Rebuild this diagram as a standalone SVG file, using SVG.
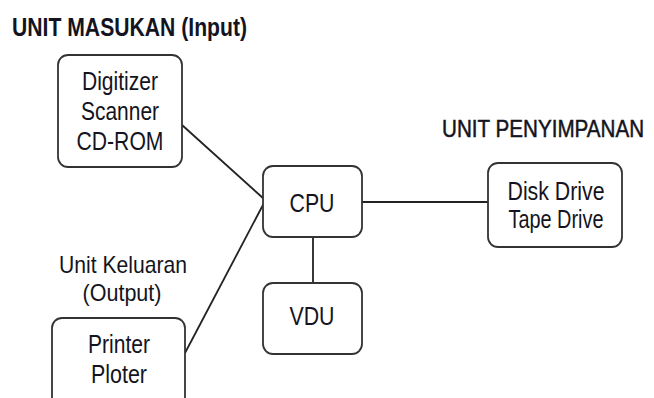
<svg xmlns="http://www.w3.org/2000/svg" width="654" height="398" viewBox="0 0 654 398">
<style>
.box{fill:#fff;stroke:#333;stroke-width:1.8}
.t{font-family:"Liberation Sans",Arial,sans-serif;font-size:26px;fill:#141420;text-anchor:middle}
.h{font-family:"Liberation Sans",Arial,sans-serif;font-size:25px;font-weight:bold;fill:#141420}
.c{stroke:#222;stroke-width:1.8;fill:none}
</style>
<rect width="654" height="398" fill="#fff"/>
<g id="connectors">
<line class="c" x1="182" y1="125" x2="264" y2="199"/>
<line class="c" x1="185" y1="353" x2="264" y2="203"/>
<line class="c" x1="362" y1="202" x2="488" y2="202"/>
<line class="c" x1="313" y1="237" x2="313" y2="283"/>
</g>
<text class="h" x="12" y="36" textLength="235" lengthAdjust="spacingAndGlyphs">UNIT MASUKAN (Input)</text>
<text class="h" transform="translate(442,137) scale(0.86,1)" x="0" y="0" style="font-size:24px;font-weight:normal;stroke:#141420;stroke-width:0.5">UNIT PENYIMPANAN</text>
<g id="input">
<rect class="box" x="58" y="55" width="124" height="112" rx="10"/>
<text class="t" x="120" y="90" textLength="76" lengthAdjust="spacingAndGlyphs">Digitizer</text>
<text class="t" x="120" y="120" textLength="78" lengthAdjust="spacingAndGlyphs">Scanner</text>
<text class="t" x="120" y="150" textLength="87" lengthAdjust="spacingAndGlyphs">CD-ROM</text>
</g>
<g id="cpu">
<rect class="box" x="263" y="166" width="99" height="71" rx="10"/>
<text class="t" x="312" y="212" textLength="45" lengthAdjust="spacingAndGlyphs">CPU</text>
</g>
<g id="storage">
<rect class="box" x="488" y="163" width="134" height="84" rx="10"/>
<text class="t" x="556" y="200" textLength="97" lengthAdjust="spacingAndGlyphs">Disk Drive</text>
<text class="t" x="556" y="228" textLength="95" lengthAdjust="spacingAndGlyphs">Tape Drive</text>
</g>
<g id="vdu">
<rect class="box" x="263" y="283" width="99" height="71" rx="10"/>
<text class="t" x="312" y="325" textLength="45" lengthAdjust="spacingAndGlyphs">VDU</text>
</g>
<g id="output-label">
<text class="t" x="123" y="273" textLength="128" lengthAdjust="spacingAndGlyphs" style="font-size:24px">Unit Keluaran</text>
<text class="t" x="122" y="301" textLength="79" lengthAdjust="spacingAndGlyphs" style="font-size:24px">(Output)</text>
</g>
<g id="output">
<rect class="box" x="52" y="318" width="133" height="100" rx="10"/>
<text class="t" x="119" y="353" textLength="62" lengthAdjust="spacingAndGlyphs">Printer</text>
<text class="t" x="119" y="383" textLength="56" lengthAdjust="spacingAndGlyphs">Ploter</text>
</g>
</svg>
